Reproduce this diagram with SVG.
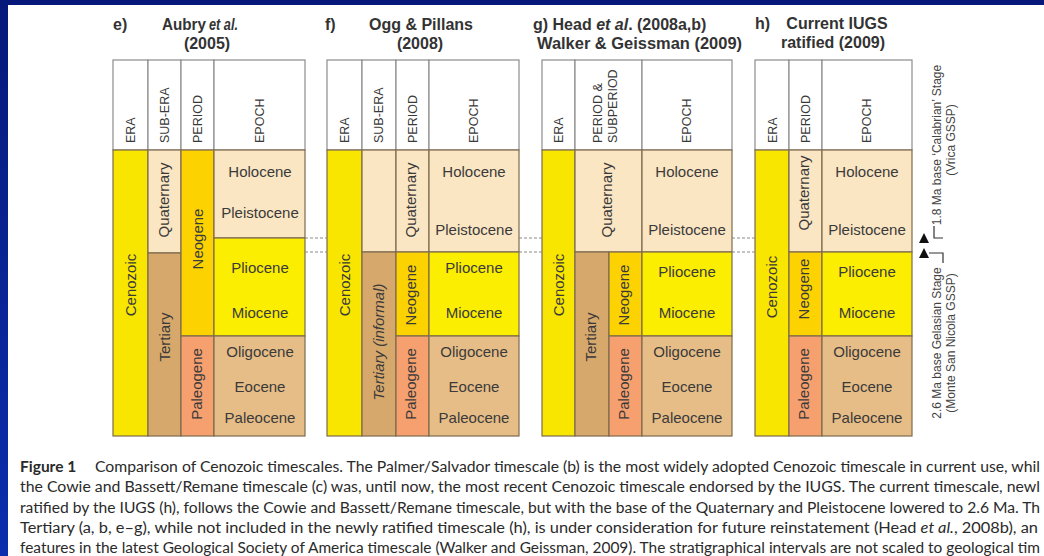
<svg xmlns="http://www.w3.org/2000/svg" width="1044" height="556" viewBox="0 0 1044 556">
<defs>
<linearGradient id="bg" x1="0" y1="0" x2="0" y2="1">
<stop offset="0" stop-color="#06197a"/>
<stop offset="1" stop-color="#0b2eae"/>
</linearGradient>
</defs>
<style>
.hd{fill:#fff;stroke:#8c8c8c;stroke-width:1.2}
.c{stroke:#7d6a4e;stroke-width:1.2}
.era{fill:#f8e600}
.lt{fill:#fbe6c3}
.ter{fill:#d7a86c}
.neo{fill:#fcd300}
.pal{fill:#f6a06f}
.ey{fill:#fbee00}
.et{fill:#e6bd87}
.ttl{font-family:"Liberation Sans",Arial,sans-serif;font-weight:bold;font-size:16px;fill:#333}
.hl{font-family:"Liberation Sans",Arial,sans-serif;font-size:12.5px;fill:#3a3a3a}
.vl{font-family:"Liberation Sans",Arial,sans-serif;font-size:15px;fill:#3a3a3a;text-anchor:middle}
.ep{font-family:"Liberation Sans",Arial,sans-serif;font-size:15px;fill:#3a3a3a;text-anchor:middle}
.an{font-family:"Liberation Sans",Arial,sans-serif;font-size:12px;fill:#444;text-anchor:middle}
.cap{font-family:Lato,"Open Sans",sans-serif;font-size:15.5px;fill:#2a2a2a}
.dash{stroke:#8a8a8a;stroke-width:1.2;stroke-dasharray:3 2;fill:none}
.br{stroke:#333;stroke-width:1.2;fill:none}
.tri{fill:#111}
</style>
<rect x="0" y="0" width="1044" height="556" fill="url(#bg)"/>
<rect x="8" y="5" width="1036" height="551" fill="#fff"/>

<!-- Titles -->
<g id="title-e">
<text class="ttl" x="113" y="30">e)</text>
<text class="ttl" x="162" y="30" textLength="44" lengthAdjust="spacingAndGlyphs">Aubry</text>
<text class="ttl" x="209" y="30" font-style="italic" textLength="29" lengthAdjust="spacingAndGlyphs">et al.</text>
<text class="ttl" x="207" y="49" text-anchor="middle">(2005)</text>
</g>
<g id="title-f">
<text class="ttl" x="325" y="30">f)</text>
<text class="ttl" x="421" y="30" text-anchor="middle">Ogg &amp; Pillans</text>
<text class="ttl" x="420" y="49" text-anchor="middle">(2008)</text>
</g>
<g id="title-g">
<text class="ttl" x="533" y="30">g) Head <tspan font-style="italic">et al</tspan>. (2008a,b)</text>
<text class="ttl" x="537" y="49" textLength="205" lengthAdjust="spacingAndGlyphs">Walker &amp; Geissman (2009)</text>
</g>
<g id="title-h">
<text class="ttl" x="755" y="29">h)</text>
<text class="ttl" x="837" y="29" text-anchor="middle">Current IUGS</text>
<text class="ttl" x="833" y="48" text-anchor="middle">ratified (2009)</text>
</g>

<!-- Panel e -->
<g id="panel-e">
<g id="e-header">
<rect class="hd" x="113" y="60" width="35" height="90"/>
<rect class="hd" x="148" y="60" width="33" height="90"/>
<rect class="hd" x="181" y="60" width="33" height="90"/>
<rect class="hd" x="214" y="60" width="91" height="90"/>
<text class="hl" transform="translate(135,143) rotate(-90)">ERA</text>
<text class="hl" transform="translate(169,143) rotate(-90)">SUB-ERA</text>
<text class="hl" transform="translate(202,143) rotate(-90)">PERIOD</text>
<text class="hl" transform="translate(264,143) rotate(-90)">EPOCH</text>
</g>
<g id="e-cenozoic"><rect class="c era" x="113" y="150" width="35" height="286"/><text class="vl" transform="translate(136,285) rotate(-90)">Cenozoic</text></g>
<g id="e-quaternary"><rect class="c lt" x="148" y="150" width="33" height="103"/><text class="vl" transform="translate(169,200) rotate(-90)">Quaternary</text></g>
<g id="e-tertiary"><rect class="c ter" x="148" y="253" width="33" height="183"/><text class="vl" transform="translate(170,337) rotate(-90)">Tertiary</text></g>
<g id="e-neogene"><rect class="c neo" x="181" y="150" width="33" height="186"/><text class="vl" transform="translate(203,239) rotate(-90)">Neogene</text></g>
<g id="e-paleogene"><rect class="c pal" x="181" y="336" width="33" height="100"/><text class="vl" transform="translate(202,384) rotate(-90)">Paleogene</text></g>
<g id="e-holo-pleisto"><rect class="c lt" x="214" y="150" width="91" height="88"/><text class="ep" x="260" y="177">Holocene</text><text class="ep" x="260" y="218">Pleistocene</text></g>
<g id="e-plio-mio"><rect class="c ey" x="214" y="238" width="91" height="98"/><text class="ep" x="260" y="273">Pliocene</text><text class="ep" x="260" y="318">Miocene</text></g>
<g id="e-paleo-epochs"><rect class="c et" x="214" y="336" width="91" height="100"/><text class="ep" x="260" y="357">Oligocene</text><text class="ep" x="260" y="392">Eocene</text><text class="ep" x="260" y="423">Paleocene</text></g>
</g>

<!-- Panel f -->
<g id="panel-f">
<g id="f-header">
<rect class="hd" x="327" y="60" width="35" height="90"/>
<rect class="hd" x="362" y="60" width="34" height="90"/>
<rect class="hd" x="396" y="60" width="33" height="90"/>
<rect class="hd" x="429" y="60" width="90" height="90"/>
<text class="hl" transform="translate(349,143) rotate(-90)">ERA</text>
<text class="hl" transform="translate(383,143) rotate(-90)">SUB-ERA</text>
<text class="hl" transform="translate(417,143) rotate(-90)">PERIOD</text>
<text class="hl" transform="translate(478,143) rotate(-90)">EPOCH</text>
</g>
<g id="f-cenozoic"><rect class="c era" x="327" y="150" width="35" height="286"/><text class="vl" transform="translate(350,285) rotate(-90)">Cenozoic</text></g>
<g id="f-subera-blank"><rect class="c lt" x="362" y="150" width="34" height="102"/></g>
<g id="f-tertiary"><rect class="c ter" x="362" y="252" width="34" height="184"/><text class="vl" font-style="italic" transform="translate(384,342) rotate(-90)">Tertiary (informal)</text></g>
<g id="f-quaternary"><rect class="c lt" x="396" y="150" width="33" height="102"/><text class="vl" transform="translate(416,200) rotate(-90)">Quaternary</text></g>
<g id="f-neogene"><rect class="c neo" x="396" y="252" width="33" height="84"/><text class="vl" transform="translate(416,295) rotate(-90)">Neogene</text></g>
<g id="f-paleogene"><rect class="c pal" x="396" y="336" width="33" height="100"/><text class="vl" transform="translate(416,384) rotate(-90)">Paleogene</text></g>
<g id="f-holo-pleisto"><rect class="c lt" x="429" y="150" width="90" height="102"/><text class="ep" x="474" y="177">Holocene</text><text class="ep" x="474" y="235">Pleistocene</text></g>
<g id="f-plio-mio"><rect class="c ey" x="429" y="252" width="90" height="84"/><text class="ep" x="474" y="273">Pliocene</text><text class="ep" x="474" y="318">Miocene</text></g>
<g id="f-paleo-epochs"><rect class="c et" x="429" y="336" width="90" height="100"/><text class="ep" x="474" y="357">Oligocene</text><text class="ep" x="474" y="392">Eocene</text><text class="ep" x="474" y="423">Paleocene</text></g>
</g>

<!-- Panel g -->
<g id="panel-g">
<g id="g-header">
<rect class="hd" x="542" y="60" width="33" height="90"/>
<rect class="hd" x="575" y="60" width="67" height="90"/>
<rect class="hd" x="642" y="60" width="90" height="90"/>
<text class="hl" transform="translate(563,143) rotate(-90)">ERA</text>
<text class="hl" transform="translate(602,143) rotate(-90)">PERIOD &amp;</text>
<text class="hl" transform="translate(617,143) rotate(-90)">SUBPERIOD</text>
<text class="hl" transform="translate(691,143) rotate(-90)">EPOCH</text>
</g>
<g id="g-cenozoic"><rect class="c era" x="542" y="150" width="33" height="286"/><text class="vl" transform="translate(564,285) rotate(-90)">Cenozoic</text></g>
<g id="g-quaternary"><rect class="c lt" x="575" y="150" width="67" height="102"/><text class="vl" transform="translate(612,200) rotate(-90)">Quaternary</text></g>
<g id="g-tertiary"><rect class="c ter" x="575" y="252" width="34" height="184"/><text class="vl" transform="translate(596,337) rotate(-90)">Tertiary</text></g>
<g id="g-neogene"><rect class="c neo" x="609" y="252" width="33" height="84"/><text class="vl" transform="translate(629,295) rotate(-90)">Neogene</text></g>
<g id="g-paleogene"><rect class="c pal" x="609" y="336" width="33" height="100"/><text class="vl" transform="translate(629,384) rotate(-90)">Paleogene</text></g>
<g id="g-holo-pleisto"><rect class="c lt" x="642" y="150" width="90" height="102"/><text class="ep" x="687" y="177">Holocene</text><text class="ep" x="687" y="235">Pleistocene</text></g>
<g id="g-plio-mio"><rect class="c ey" x="642" y="252" width="90" height="84"/><text class="ep" x="687" y="277">Pliocene</text><text class="ep" x="687" y="318">Miocene</text></g>
<g id="g-paleo-epochs"><rect class="c et" x="642" y="336" width="90" height="100"/><text class="ep" x="687" y="357">Oligocene</text><text class="ep" x="687" y="392">Eocene</text><text class="ep" x="687" y="423">Paleocene</text></g>
</g>

<!-- Panel h -->
<g id="panel-h">
<g id="h-header">
<rect class="hd" x="755" y="60" width="34" height="90"/>
<rect class="hd" x="789" y="60" width="33" height="90"/>
<rect class="hd" x="822" y="60" width="90" height="90"/>
<text class="hl" transform="translate(777,143) rotate(-90)">ERA</text>
<text class="hl" transform="translate(810,143) rotate(-90)">PERIOD</text>
<text class="hl" transform="translate(871,143) rotate(-90)">EPOCH</text>
</g>
<g id="h-cenozoic"><rect class="c era" x="755" y="150" width="34" height="286"/><text class="vl" transform="translate(777,287) rotate(-90)">Cenozoic</text></g>
<g id="h-quaternary"><rect class="c lt" x="789" y="150" width="33" height="102"/><text class="vl" transform="translate(809,193) rotate(-90)">Quaternary</text></g>
<g id="h-neogene"><rect class="c neo" x="789" y="252" width="33" height="84"/><text class="vl" transform="translate(809,289) rotate(-90)">Neogene</text></g>
<g id="h-paleogene"><rect class="c pal" x="789" y="336" width="33" height="100"/><text class="vl" transform="translate(809,384) rotate(-90)">Paleogene</text></g>
<g id="h-holo-pleisto"><rect class="c lt" x="822" y="150" width="90" height="102"/><text class="ep" x="867" y="177">Holocene</text><text class="ep" x="867" y="235">Pleistocene</text></g>
<g id="h-plio-mio"><rect class="c ey" x="822" y="252" width="90" height="84"/><text class="ep" x="867" y="277">Pliocene</text><text class="ep" x="867" y="318">Miocene</text></g>
<g id="h-paleo-epochs"><rect class="c et" x="822" y="336" width="90" height="100"/><text class="ep" x="867" y="357">Oligocene</text><text class="ep" x="867" y="392">Eocene</text><text class="ep" x="867" y="423">Paleocene</text></g>
</g>

<!-- GSSP annotations -->
<g id="calabrian-note">
<text class="an" transform="translate(941,145) rotate(-90)">1.8 Ma base ‘Calabrian’ Stage</text>
<text class="an" transform="translate(955,140) rotate(-90)">(Vrica GSSP)</text>
</g>
<g id="gelasian-note">
<text class="an" transform="translate(941,343) rotate(-90)">2.6 Ma base Gelasian Stage</text>
<text class="an" transform="translate(955,343) rotate(-90)">(Monte San Nicola GSSP)</text>
</g>

<!-- Connectors -->
<g id="connectors">
<path class="dash" d="M305,238 H327 M305,252 H327"/>
<path class="dash" d="M519,238 H542 M519,252 H542"/>
<path class="dash" d="M732,238 H755 M732,252 H755"/>
<path class="tri" d="M919,243 L924,233 L929,243 Z"/>
<path class="br" d="M934,226 V238 H943"/>
<path class="tri" d="M919,258 L924,248 L929,258 Z"/>
<path class="br" d="M929,253 H943 V263"/>
</g>

<!-- Caption -->
<g id="caption">
<text class="cap" x="20" y="472" font-weight="bold">Figure 1</text>
<text class="cap" x="95" y="472" textLength="945" lengthAdjust="spacingAndGlyphs">Comparison of Cenozoic timescales. The Palmer/Salvador timescale (b) is the most widely adopted Cenozoic timescale in current use, whil</text>
<text class="cap" x="20" y="492" textLength="1020" lengthAdjust="spacingAndGlyphs">the Cowie and Bassett/Remane timescale (c) was, until now, the most recent Cenozoic timescale endorsed by the IUGS. The current timescale, newl</text>
<text class="cap" x="20" y="513" textLength="1020" lengthAdjust="spacingAndGlyphs">ratified by the IUGS (h), follows the Cowie and Bassett/Remane timescale, but with the base of the Quaternary and Pleistocene lowered to 2.6 Ma. Th</text>
<text class="cap" x="20" y="533" textLength="1018" lengthAdjust="spacingAndGlyphs">Tertiary (a, b, e–g), while not included in the newly ratified timescale (h), is under consideration for future reinstatement (Head <tspan font-style="italic">et al.</tspan>, 2008b), an</text>
<text class="cap" x="20" y="553" textLength="1020" lengthAdjust="spacingAndGlyphs">features in the latest Geological Society of America timescale (Walker and Geissman, 2009). The stratigraphical intervals are not scaled to geological tim</text>
</g>
</svg>
